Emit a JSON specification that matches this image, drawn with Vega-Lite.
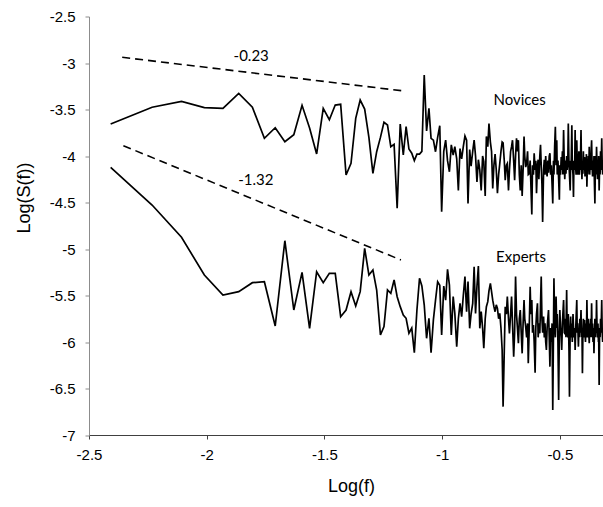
{
  "$schema": "https://vega.github.io/schema/vega-lite/v6.json",
  "width": 514,
  "height": 418.5,
  "autosize": {"type": "none"},
  "padding": {"left": 89, "top": 16.5, "right": 0, "bottom": 72},
  "background": "white",
  "config": {
    "view": {"stroke": null},
    "axis": {"grid": false, "labelFlush": false, "labelOverlap": false},
    "locale": {"number": {"decimal": ".", "thousands": ",", "grouping": [3], "currency": ["$", ""], "minus": "-"}}
  },
  "datasets": {
    "spectra": [
      {"x": -2.408, "n": -3.656, "e": -4.122},
      {"x": -2.232, "n": -3.476, "e": -4.527},
      {"x": -2.107, "n": -3.412, "e": -4.874},
      {"x": -2.010, "n": -3.48, "e": -5.28},
      {"x": -1.931, "n": -3.487, "e": -5.495},
      {"x": -1.864, "n": -3.326, "e": -5.459},
      {"x": -1.806, "n": -3.476, "e": -5.362},
      {"x": -1.755, "n": -3.81, "e": -5.352},
      {"x": -1.709, "n": -3.696, "e": -5.828},
      {"x": -1.668, "n": -3.846, "e": -4.911},
      {"x": -1.630, "n": -3.771, "e": -5.656},
      {"x": -1.595, "n": -3.455, "e": -5.251},
      {"x": -1.563, "n": -3.70, "e": -5.853},
      {"x": -1.533, "n": -3.978, "e": -5.244},
      {"x": -1.505, "n": -3.488, "e": -5.362},
      {"x": -1.479, "n": -3.61, "e": -5.262},
      {"x": -1.454, "n": -3.452, "e": -5.262},
      {"x": -1.431, "n": -3.444, "e": -5.728},
      {"x": -1.408, "n": -4.204, "e": -5.656},
      {"x": -1.387, "n": -4.079, "e": -5.459},
      {"x": -1.367, "n": -3.595, "e": -5.613},
      {"x": -1.348, "n": -3.398, "e": -5.459},
      {"x": -1.329, "n": -3.495, "e": -4.993},
      {"x": -1.311, "n": -3.80, "e": -5.28},
      {"x": -1.294, "n": -4.186, "e": -5.226},
      {"x": -1.278, "n": -3.954, "e": -5.441},
      {"x": -1.262, "n": -3.80, "e": -5.925},
      {"x": -1.247, "n": -3.638, "e": -5.835},
      {"x": -1.232, "n": -3.667, "e": -5.441},
      {"x": -1.218, "n": -3.90, "e": -5.477},
      {"x": -1.204, "n": -3.874, "e": -5.333},
      {"x": -1.191, "n": -4.562, "e": -5.513},
      {"x": -1.178, "n": -3.656, "e": -5.62},
      {"x": -1.165, "n": -3.989, "e": -5.71},
      {"x": -1.153, "n": -3.685, "e": -5.745},
      {"x": -1.141, "n": -3.925, "e": -5.906},
      {"x": -1.129, "n": -3.97, "e": -5.85},
      {"x": -1.118, "n": -4.05, "e": -6.115},
      {"x": -1.107, "n": -3.98, "e": -5.656},
      {"x": -1.096, "n": -3.98, "e": -5.315},
      {"x": -1.086, "n": -3.95, "e": -5.398},
      {"x": -1.076, "n": -3.129, "e": -5.60},
      {"x": -1.066, "n": -3.731, "e": -5.96},
      {"x": -1.056, "n": -3.487, "e": -5.745},
      {"x": -1.047, "n": -3.81, "e": -6.115},
      {"x": -1.037, "n": -3.83, "e": -5.76},
      {"x": -1.028, "n": -3.954, "e": -5.55},
      {"x": -1.019, "n": -3.80, "e": -5.352},
      {"x": -1.010, "n": -3.674, "e": -5.39},
      {"x": -1.002, "n": -4.599, "e": -5.925},
      {"x": -0.993, "n": -3.95, "e": -5.398},
      {"x": -0.985, "n": -3.83, "e": -5.55},
      {"x": -0.977, "n": -4.05, "e": -5.219},
      {"x": -0.969, "n": -4.17, "e": -5.387},
      {"x": -0.961, "n": -3.88, "e": -5.925},
      {"x": -0.953, "n": -3.99, "e": -5.512},
      {"x": -0.946, "n": -3.90, "e": -5.692},
      {"x": -0.938, "n": -4.03, "e": -6.05},
      {"x": -0.931, "n": -4.37, "e": -5.75},
      {"x": -0.924, "n": -3.92, "e": -5.584},
      {"x": -0.917, "n": -4.03, "e": -5.727},
      {"x": -0.910, "n": -3.90, "e": -5.50},
      {"x": -0.903, "n": -3.785, "e": -5.297},
      {"x": -0.896, "n": -3.83, "e": -5.674},
      {"x": -0.890, "n": -4.51, "e": -5.351},
      {"x": -0.883, "n": -3.93, "e": -5.853},
      {"x": -0.877, "n": -4.11, "e": -5.70},
      {"x": -0.870, "n": -3.95, "e": -5.584},
      {"x": -0.864, "n": -3.83, "e": -5.19},
      {"x": -0.858, "n": -4.00, "e": -5.692},
      {"x": -0.852, "n": -4.28, "e": -5.40},
      {"x": -0.846, "n": -4.04, "e": -5.183},
      {"x": -0.840, "n": -4.15, "e": -5.853},
      {"x": -0.834, "n": -4.37, "e": -5.674},
      {"x": -0.828, "n": -4.00, "e": -5.85},
      {"x": -0.823, "n": -4.06, "e": -6.068},
      {"x": -0.817, "n": -4.43, "e": -5.75},
      {"x": -0.812, "n": -3.79, "e": -5.62},
      {"x": -0.806, "n": -3.90, "e": -5.566},
      {"x": -0.801, "n": -3.65, "e": -5.45},
      {"x": -0.795, "n": -3.85, "e": -5.369},
      {"x": -0.790, "n": -3.95, "e": -5.459},
      {"x": -0.785, "n": -4.35, "e": -5.55},
      {"x": -0.780, "n": -4.10, "e": -5.62},
      {"x": -0.775, "n": -3.98, "e": -5.674},
      {"x": -0.770, "n": -4.15, "e": -5.60},
      {"x": -0.765, "n": -4.40, "e": -5.638},
      {"x": -0.760, "n": -4.20, "e": -5.75},
      {"x": -0.755, "n": -4.08, "e": -5.692},
      {"x": -0.750, "n": -3.95, "e": -5.85},
      {"x": -0.745, "n": -3.85, "e": -6.086},
      {"x": -0.741, "n": -3.86, "e": -6.695},
      {"x": -0.736, "n": -4.05, "e": -6.10},
      {"x": -0.732, "n": -4.26, "e": -5.62},
      {"x": -0.727, "n": -4.10, "e": -5.70},
      {"x": -0.723, "n": -4.08, "e": -5.512},
      {"x": -0.718, "n": -4.37, "e": -5.75},
      {"x": -0.714, "n": -4.15, "e": -5.907},
      {"x": -0.709, "n": -3.95, "e": -5.70},
      {"x": -0.705, "n": -3.90, "e": -5.512},
      {"x": -0.701, "n": -3.83, "e": -5.80},
      {"x": -0.696, "n": -4.05, "e": -6.158},
      {"x": -0.692, "n": -4.26, "e": -5.90},
      {"x": -0.688, "n": -4.00, "e": -5.297},
      {"x": -0.684, "n": -3.81, "e": -5.70},
      {"x": -0.680, "n": -3.95, "e": -5.85},
      {"x": -0.676, "n": -3.83, "e": -6.014},
      {"x": -0.672, "n": -4.20, "e": -5.75},
      {"x": -0.668, "n": -4.37, "e": -5.656},
      {"x": -0.664, "n": -4.10, "e": -5.90},
      {"x": -0.660, "n": -4.43, "e": -6.122},
      {"x": -0.656, "n": -4.15, "e": -5.80},
      {"x": -0.652, "n": -3.79, "e": -5.548},
      {"x": -0.649, "n": -4.00, "e": -5.75},
      {"x": -0.645, "n": -4.12, "e": -5.835},
      {"x": -0.641, "n": -4.08, "e": -5.95},
      {"x": -0.637, "n": -3.95, "e": -5.80},
      {"x": -0.634, "n": -4.20, "e": -6.229},
      {"x": -0.630, "n": -4.19, "e": -5.85},
      {"x": -0.626, "n": -4.05, "e": -5.405},
      {"x": -0.623, "n": -4.30, "e": -5.70},
      {"x": -0.619, "n": -4.63, "e": -5.548},
      {"x": -0.616, "n": -4.10, "e": -5.90},
      {"x": -0.612, "n": -4.20, "e": -5.817},
      {"x": -0.609, "n": -3.97, "e": -6.00},
      {"x": -0.605, "n": -4.15, "e": -6.330},
      {"x": -0.602, "n": -4.05, "e": -5.85},
      {"x": -0.599, "n": -4.40, "e": -5.70},
      {"x": -0.595, "n": -4.10, "e": -5.584},
      {"x": -0.592, "n": -4.04, "e": -5.95},
      {"x": -0.589, "n": -4.25, "e": -5.80},
      {"x": -0.585, "n": -4.00, "e": -5.907},
      {"x": -0.582, "n": -3.88, "e": -5.60},
      {"x": -0.579, "n": -4.10, "e": -5.297},
      {"x": -0.576, "n": -4.30, "e": -5.75},
      {"x": -0.573, "n": -4.71, "e": -5.90},
      {"x": -0.569, "n": -4.15, "e": -5.727},
      {"x": -0.566, "n": -4.04, "e": -5.95},
      {"x": -0.563, "n": -4.20, "e": -5.80},
      {"x": -0.560, "n": -4.00, "e": -6.00},
      {"x": -0.557, "n": -4.15, "e": -6.086},
      {"x": -0.554, "n": -4.22, "e": -5.85},
      {"x": -0.551, "n": -4.05, "e": -5.75},
      {"x": -0.548, "n": -4.18, "e": -5.656},
      {"x": -0.545, "n": -4.00, "e": -5.95},
      {"x": -0.542, "n": -3.97, "e": -6.265},
      {"x": -0.539, "n": -4.20, "e": -5.85},
      {"x": -0.536, "n": -4.10, "e": -6.00},
      {"x": -0.533, "n": -4.30, "e": -5.80},
      {"x": -0.530, "n": -4.51, "e": -6.731},
      {"x": -0.527, "n": -4.05, "e": -5.90},
      {"x": -0.525, "n": -4.20, "e": -5.315},
      {"x": -0.522, "n": -3.90, "e": -5.80},
      {"x": -0.519, "n": -3.685, "e": -5.95},
      {"x": -0.516, "n": -4.10, "e": -5.512},
      {"x": -0.513, "n": -3.83, "e": -5.85},
      {"x": -0.511, "n": -4.20, "e": -5.70},
      {"x": -0.508, "n": -4.05, "e": -6.00},
      {"x": -0.505, "n": -4.25, "e": -6.624},
      {"x": -0.502, "n": -4.47, "e": -5.90},
      {"x": -0.500, "n": -4.10, "e": -5.656},
      {"x": -0.497, "n": -4.20, "e": -5.85},
      {"x": -0.494, "n": -4.01, "e": -5.95},
      {"x": -0.492, "n": -4.15, "e": -6.086},
      {"x": -0.489, "n": -3.95, "e": -5.80},
      {"x": -0.487, "n": -4.20, "e": -5.70},
      {"x": -0.484, "n": -3.72, "e": -5.548},
      {"x": -0.481, "n": -4.10, "e": -5.90},
      {"x": -0.479, "n": -4.25, "e": -5.907},
      {"x": -0.476, "n": -4.05, "e": -5.75},
      {"x": -0.474, "n": -4.19, "e": -5.95},
      {"x": -0.471, "n": -4.00, "e": -5.441},
      {"x": -0.469, "n": -4.15, "e": -5.85},
      {"x": -0.466, "n": -4.05, "e": -5.95},
      {"x": -0.464, "n": -3.65, "e": -5.70},
      {"x": -0.461, "n": -4.10, "e": -6.10},
      {"x": -0.459, "n": -4.20, "e": -6.588},
      {"x": -0.456, "n": -4.37, "e": -5.85},
      {"x": -0.454, "n": -4.05, "e": -5.727},
      {"x": -0.452, "n": -4.15, "e": -5.95},
      {"x": -0.449, "n": -3.67, "e": -5.80},
      {"x": -0.447, "n": -4.10, "e": -6.00},
      {"x": -0.444, "n": -4.20, "e": -5.70},
      {"x": -0.442, "n": -4.44, "e": -5.835},
      {"x": -0.440, "n": -4.05, "e": -5.95},
      {"x": -0.437, "n": -4.15, "e": -5.85},
      {"x": -0.435, "n": -3.72, "e": -6.086},
      {"x": -0.433, "n": -4.10, "e": -5.90},
      {"x": -0.431, "n": -4.20, "e": -5.75},
      {"x": -0.428, "n": -3.83, "e": -5.548},
      {"x": -0.426, "n": -4.05, "e": -5.90},
      {"x": -0.424, "n": -4.20, "e": -5.80},
      {"x": -0.421, "n": -4.115, "e": -6.05},
      {"x": -0.419, "n": -3.95, "e": -5.85},
      {"x": -0.417, "n": -4.20, "e": -5.95},
      {"x": -0.415, "n": -4.05, "e": -5.75},
      {"x": -0.413, "n": -4.15, "e": -5.90},
      {"x": -0.410, "n": -3.72, "e": -5.656},
      {"x": -0.408, "n": -4.10, "e": -5.95},
      {"x": -0.406, "n": -4.25, "e": -5.85},
      {"x": -0.404, "n": -4.05, "e": -6.337},
      {"x": -0.402, "n": -4.19, "e": -5.90},
      {"x": -0.400, "n": -3.95, "e": -5.75},
      {"x": -0.398, "n": -4.15, "e": -5.95},
      {"x": -0.395, "n": -4.01, "e": -5.763},
      {"x": -0.393, "n": -4.22, "e": -5.90},
      {"x": -0.391, "n": -4.05, "e": -6.00},
      {"x": -0.389, "n": -4.15, "e": -5.80},
      {"x": -0.387, "n": -3.98, "e": -5.95},
      {"x": -0.385, "n": -4.33, "e": -5.548},
      {"x": -0.383, "n": -4.10, "e": -5.85},
      {"x": -0.381, "n": -4.20, "e": -5.95},
      {"x": -0.379, "n": -4.00, "e": -5.75},
      {"x": -0.377, "n": -4.15, "e": -5.90},
      {"x": -0.375, "n": -3.90, "e": -6.014},
      {"x": -0.373, "n": -4.20, "e": -5.80},
      {"x": -0.371, "n": -4.05, "e": -5.90},
      {"x": -0.369, "n": -4.15, "e": -5.75},
      {"x": -0.367, "n": -3.95, "e": -5.95},
      {"x": -0.365, "n": -3.83, "e": -5.584},
      {"x": -0.363, "n": -4.10, "e": -5.90},
      {"x": -0.361, "n": -4.22, "e": -5.80},
      {"x": -0.359, "n": -4.05, "e": -6.00},
      {"x": -0.357, "n": -4.22, "e": -5.85},
      {"x": -0.355, "n": -4.00, "e": -6.122},
      {"x": -0.353, "n": -4.30, "e": -5.90},
      {"x": -0.351, "n": -4.51, "e": -5.75},
      {"x": -0.349, "n": -4.10, "e": -5.95},
      {"x": -0.348, "n": -4.00, "e": -5.80},
      {"x": -0.346, "n": -4.20, "e": -5.90},
      {"x": -0.344, "n": -3.90, "e": -5.548},
      {"x": -0.342, "n": -4.10, "e": -5.85},
      {"x": -0.340, "n": -4.25, "e": -5.95},
      {"x": -0.338, "n": -4.05, "e": -5.80},
      {"x": -0.336, "n": -4.15, "e": -6.00},
      {"x": -0.335, "n": -4.00, "e": -5.90},
      {"x": -0.333, "n": -4.37, "e": -6.462},
      {"x": -0.331, "n": -4.10, "e": -5.85},
      {"x": -0.329, "n": -4.20, "e": -5.95},
      {"x": -0.327, "n": -3.95, "e": -5.75},
      {"x": -0.325, "n": -4.15, "e": -5.90},
      {"x": -0.324, "n": -4.05, "e": -5.80},
      {"x": -0.322, "n": -3.81, "e": -5.548},
      {"x": -0.320, "n": -4.10, "e": -5.90},
      {"x": -0.318, "n": -4.20, "e": -6.00},
      {"x": -0.317, "n": -4.05, "e": -5.85},
      {"x": -0.315, "n": -4.15, "e": -5.95}
    ],
    "trend": [
      {"x": -2.359, "y": -2.939, "g": "novices"},
      {"x": -1.162, "y": -3.301, "g": "novices"},
      {"x": -2.354, "y": -3.889, "g": "experts"},
      {"x": -1.175, "y": -5.118, "g": "experts"}
    ],
    "labels": [
      {"x": -1.811, "y": -2.921, "t": "-0.23"},
      {"x": -1.791, "y": -4.253, "t": "-1.32"},
      {"x": -0.671, "y": -3.398, "t": "Novices"},
      {"x": -0.665, "y": -5.086, "t": "Experts"}
    ]
  },
  "layer": [
    {
      "data": {"name": "spectra"},
      "mark": {"type": "line", "color": "#000000", "strokeWidth": 1.7, "clip": true},
      "encoding": {
        "x": {
          "field": "x", "type": "quantitative",
          "scale": {"domain": [-2.5, -0.3166], "nice": false, "zero": false},
          "axis": {
            "title": "Log(f)",
            "values": [-2.5, -2, -1.5, -1, -0.5],
            "format": ".1~f",
            "labelFont": "Liberation Sans", "labelFontSize": 15, "labelColor": "#000000",
            "labelPadding": 8, "tickSize": 4, "tickColor": "#404040", "domainColor": "#404040",
            "titleFont": "Liberation Sans", "titleFontSize": 18, "titleFontWeight": "normal", "titleColor": "#000000",
            "titleX": 262, "titleY": 51, "titleBaseline": "middle", "titleAlign": "center"
          }
        },
        "y": {
          "field": "n", "type": "quantitative",
          "scale": {"domain": [-7, -2.5], "nice": false, "zero": false},
          "axis": {
            "title": "Log(S(f))",
            "values": [-7, -6.5, -6, -5.5, -5, -4.5, -4, -3.5, -3, -2.5],
            "format": ".1~f",
            "labelFont": "Liberation Sans", "labelFontSize": 15, "labelColor": "#000000",
            "labelPadding": 10, "tickSize": 4, "tickColor": "#8c8c8c", "domainColor": "#8c8c8c",
            "titleFont": "Liberation Sans", "titleFontSize": 18, "titleFontWeight": "normal", "titleColor": "#000000",
            "titleX": -65, "titleY": 181, "titleAngle": -90, "titleBaseline": "middle", "titleAlign": "center"
          }
        }
      }
    },
    {
      "data": {"name": "spectra"},
      "mark": {"type": "line", "color": "#000000", "strokeWidth": 1.7, "clip": true},
      "encoding": {
        "x": {"field": "x", "type": "quantitative"},
        "y": {"field": "e", "type": "quantitative"}
      }
    },
    {
      "data": {"name": "trend"},
      "mark": {"type": "line", "color": "#000000", "strokeWidth": 1.6, "strokeDash": [8, 5]},
      "encoding": {
        "x": {"field": "x", "type": "quantitative"},
        "y": {"field": "y", "type": "quantitative"},
        "detail": {"field": "g"}
      }
    },
    {
      "data": {"name": "labels"},
      "mark": {"type": "text", "font": "Lato", "fontSize": 15, "color": "#000000", "align": "center", "baseline": "middle"},
      "encoding": {
        "x": {"field": "x", "type": "quantitative"},
        "y": {"field": "y", "type": "quantitative"},
        "text": {"field": "t"}
      }
    }
  ]
}
